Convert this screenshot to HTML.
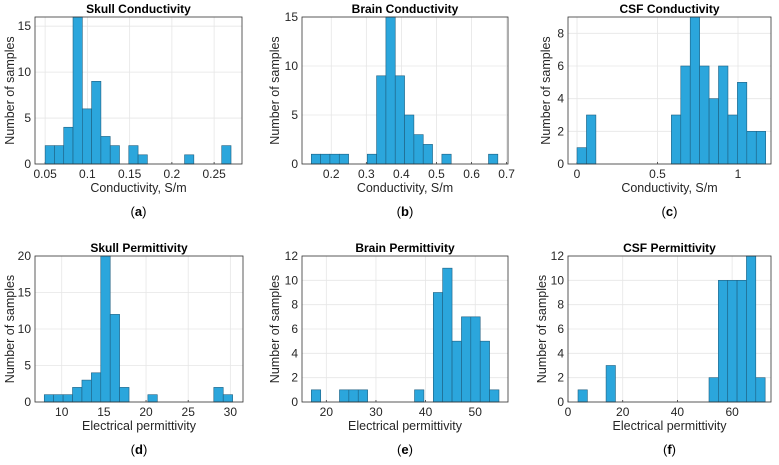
<!DOCTYPE html>
<html><head><meta charset="utf-8"><style>
body{margin:0;background:#fff;}
svg{display:block;font-family:"Liberation Sans",sans-serif;}
</style></head><body>
<svg id="fig" width="779" height="465" viewBox="0 0 779 465"></svg>
<script>
const skullCondCounts=[2,2,4,16,6,9,3,2,0,2,1,0,0,0,0,1,0,0,0,2];
const brainCondCounts=[1,1,1,1,0,0,1,9,15,9,5,3,2,0,1,0,0,0,0,1];
const csfCondCounts=[1,3,0,0,0,0,0,0,0,0,3,6,9,6,4,6,3,5,2,2];
const skullPermCounts=[1,1,1,2,3,4,20,12,2,0,0,1,0,0,0,0,0,0,2,1];
const brainPermCounts=[1,0,0,1,1,1,0,0,0,0,0,1,0,9,11,5,7,7,5,1];
const csfPermCounts=[1,0,0,3,0,0,0,0,0,0,0,0,0,0,2,10,10,10,12,2];
const binStarts=[0.05,0.143,0,7.93,16.98,3.66];
const binWidths=[0.011,0.0266,0.0586,1.117,1.89,3.42];
const titles=["Skull Conductivity","Brain Conductivity","CSF Conductivity","Skull Permittivity","Brain Permittivity","CSF Permittivity"];
const xLabels=["Conductivity, S/m","Conductivity, S/m","Conductivity, S/m","Electrical permittivity","Electrical permittivity","Electrical permittivity"];
const xTicks=[[0.05,0.1,0.15,0.2,0.25],[0.2,0.3,0.4,0.5,0.6,0.7],[0,0.5,1],[10,15,20,25,30],[20,30,40,50],[0,20,40,60]];
const yTicks=[[0,5,10,15],[0,5,10,15],[0,2,4,6,8],[0,5,10,15,20],[0,2,4,6,8,10,12],[0,2,4,6,8,10,12]];
const xLims=[[0.038,0.283],[0.1165,0.704],[-0.056,1.205],[6.83,31.5],[15.1,56.6],[0,74.2]];
const yMaxs=[16,15,9,20,12,12];
const panelLetters=["a","b","c","d","e","f"];
const allCounts=[skullCondCounts,brainCondCounts,csfCondCounts,skullPermCounts,brainPermCounts,csfPermCounts];
const boxes=[[35,17,242,164],[302,17,508,164],[568,17,771,164],[35,256,243,402],[302,256,508,402],[568,256,771,402]];
const ylabX=[10,275,546,10,275,542];
const svg=document.getElementById('fig');
const NS='http://www.w3.org/2000/svg';
function mk(tag,attrs,parent){const e=document.createElementNS(NS,tag);for(const k in attrs)e.setAttribute(k,attrs[k]);(parent||svg).appendChild(e);return e;}
for(let p=0;p<6;p++){
  const [L,T,R,B]=boxes[p];
  const g=mk('g',{});
  
  
  const xs=v=>L+(v-xLims[p][0])/(xLims[p][1]-xLims[p][0])*(R-L);
  const ys=v=>B-v/yMaxs[p]*(B-T);
  mk('rect',{x:L,y:T,width:R-L,height:B-T,fill:'#fff'},g);
  xTicks[p].forEach(t=>{const x=xs(t);
    const gl=mk('line',{x1:x,x2:x,y1:T,y2:B,stroke:'#e6e6e6','stroke-width':0.8},g);
    
    mk('line',{x1:x,x2:x,y1:B,y2:B-2,stroke:'#333','stroke-width':0.8},g);
    const tx=mk('text',{x:x,y:B+14,'font-size':12,fill:'#262626','text-anchor':'middle'},g);
    tx.textContent=t;});
  yTicks[p].forEach(t=>{const y=ys(t);
    const gl=mk('line',{x1:L,x2:R,y1:y,y2:y,stroke:'#e6e6e6','stroke-width':0.8},g);
    
    const tx=mk('text',{x:L-4,y:y+4,'font-size':12,fill:'#262626','text-anchor':'end'},g);
    tx.textContent=t;});
  allCounts[p].forEach((c,i)=>{if(!c)return;
    const x0=xs(binStarts[p]+i*binWidths[p]),x1=xs(binStarts[p]+(i+1)*binWidths[p]);
    const r=mk('rect',{x:x0,y:ys(c),width:x1-x0,height:B-ys(c),fill:'#2ba6dc',stroke:'#1d5f80','stroke-width':0.6},g);
    });
  const fr=mk('rect',{x:L,y:T,width:R-L,height:B-T,fill:'none',stroke:'#333','stroke-width':0.8},g);
  
  const ti=mk('text',{x:(L+R)/2,y:T-4,'font-size':12,'font-weight':'bold',fill:'#000','text-anchor':'middle'},g);
  ti.textContent=titles[p];
  const xl=mk('text',{x:(L+R)/2,y:B+28,'font-size':12.5,fill:'#262626','text-anchor':'middle'},g);
  xl.textContent=xLabels[p];
  const cy=(T+B)/2;
  const yl=mk('text',{x:ylabX[p],y:cy,'font-size':12.5,fill:'#262626','text-anchor':'middle',transform:`rotate(-90 ${ylabX[p]} ${cy}) translate(0 4)`},g);
  yl.textContent='Number of samples';
  const pl=mk('text',{x:(L+R)/2,y:p<3?216:454,'font-size':13,fill:'#000','text-anchor':'middle'},g);
  
  const s1=mk('tspan',{},pl);s1.textContent='(';
  const s2=mk('tspan',{'font-weight':'bold'},pl);s2.textContent=panelLetters[p];
  const s3=mk('tspan',{},pl);s3.textContent=')';
}
</script>
</body></html>
